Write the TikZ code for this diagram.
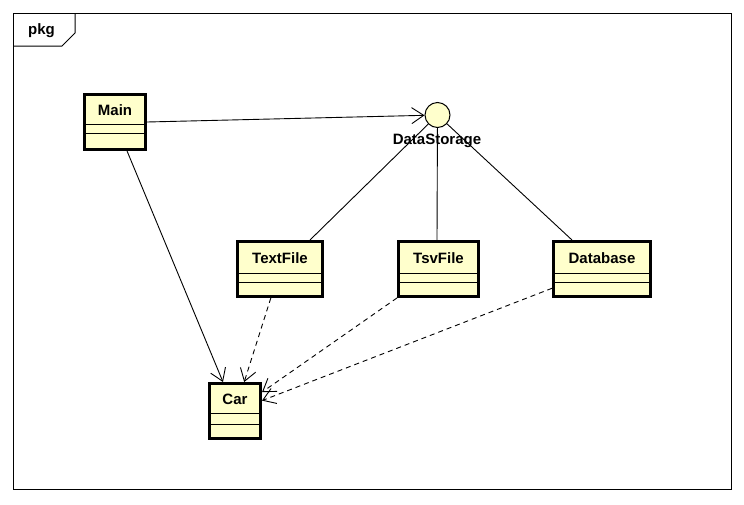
\documentclass[tikz,border=0pt]{standalone}
\usepackage{fontspec}
\setmainfont{Liberation Sans}
\usetikzlibrary{arrows.meta}
\definecolor{classfill}{HTML}{FFFFCC}
\tikzset{
  classbox/.style={draw=black, fill=classfill, line width=2.6pt, inner sep=0pt},
  compline/.style={draw=black, line width=1pt},
  classname/.style={font=\fontsize{15}{17}\selectfont\bfseries, inner sep=0pt},
  iface/.style={circle, draw=black, fill=classfill, line width=1pt, minimum size=25pt, inner sep=0pt},
  conn/.style={line width=0.9pt, draw=black},
  opentip/.style={-{Straight Barb[length=12pt,width=16pt,line width=0.9pt]}},
  dep/.style={conn, opentip, dash pattern=on 5pt off 4pt},
  frameline/.style={draw=black, line width=1pt}
}
\newcommand\umlbox[8]{%
  \node[classbox, minimum width={#5-#3-2.6}, minimum height={#6-#4-2.6}] (#1) at ({(#3+#5)/2},{(#4+#6)/2}) {};
  \draw[compline] ({#3+1},#7) -- ({#5-1},#7);
  \draw[compline] ({#3+1},#8) -- ({#5-1},#8);
  \node[classname] (#1-name) at ({(#3+#5)/2},{(#4+#7)/2+1.5}) {#2};
}
\begin{document}
\begin{tikzpicture}[x=1pt,y=-1pt]
\useasboundingbox[fill=white] (0,0) rectangle (744,504);
% frame
\draw[frameline] (13,13) rectangle (731,489);
\draw[frameline] (13,46) -- (62,46) -- (75,33) -- (75,13);
\node[classname, anchor=base] (pkg) at (41.5,34) {pkg};
% classes
\umlbox{main}{Main}{83}{93}{147}{151}{124}{133}
\umlbox{textfile}{TextFile}{236}{240}{324}{298}{273}{282}
\umlbox{tsvfile}{TsvFile}{397}{240}{480}{298}{273}{282}
\umlbox{database}{Database}{552}{240}{652}{298}{273}{282}
\umlbox{car}{Car}{208}{382}{262}{440}{413}{424}
% interface
\node[iface] (ds) at (437.5,115) {};
\node[classname, anchor=base] (dslabel) at (437,144) {DataStorage};
% realizations (lollipop)
\draw[conn] (ds) -- ([xshift=30pt]textfile.north);
\draw[conn] (ds) -- ([xshift=-1.5pt]tsvfile.north);
\draw[conn] (ds) -- ([xshift=-30pt]database.north);
% associations
\draw[conn, opentip] (main.east) -- (ds);
\draw[conn, opentip] (main) -- (car);
% dependencies
\draw[dep] (textfile) -- (car);
\draw[dep] (tsvfile) -- (car);
\draw[dep] (database) -- (car);
\end{tikzpicture}
\end{document}
